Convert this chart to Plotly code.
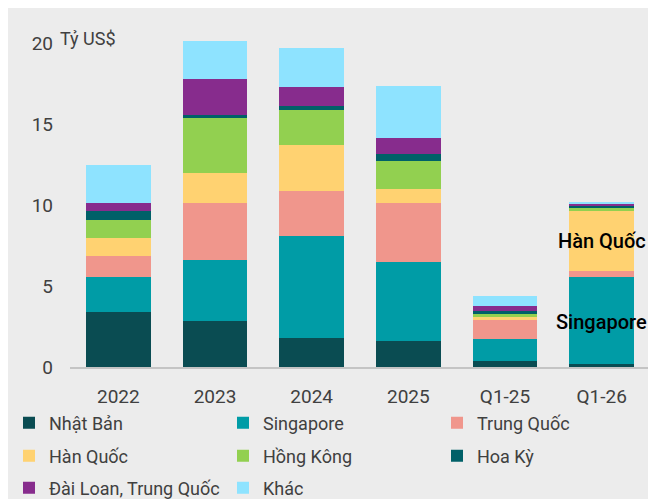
import plotly.graph_objects as go

categories = ["2022", "2023", "2024", "2025", "Q1-25", "Q1-26"]

nhat_ban = [3.38, 2.86, 1.77, 1.60, 0.37, 0.19]
singapore = [2.16, 3.76, 6.30, 4.86, 1.34, 5.35]
trung_quoc = [1.33, 3.52, 2.81, 3.68, 1.17, 0.40]
han_quoc = [1.09, 1.84, 2.84, 0.83, 0.19, 3.69]
hong_kong = [1.09, 3.43, 2.18, 1.75, 0.20, 0.23]
hoa_ky = [0.58, 0.15, 0.25, 0.43, 0.17, 0.10]
dai_loan = [0.51, 2.20, 1.12, 1.00, 0.35, 0.10]
khac = [2.33, 2.40, 2.46, 3.18, 0.57, 0.14]

series_names = ["Nhật Bản", "Singapore", "Trung Quốc", "Hàn Quốc", "Hồng Kông",
                "Hoa Kỳ", "Đài Loan, Trung Quốc", "Khác"]
series_values = [nhat_ban, singapore, trung_quoc, han_quoc, hong_kong, hoa_ky, dai_loan, khac]
series_colors = ["#0A4C52", "#009CA6", "#F0968C", "#FFD271", "#92D050",
                 "#006068", "#872C8D", "#8EE3FF"]

y_ticks = [0, 5, 10, 15, 20]
unit_label = "Tỷ US$"

FONT = "Roboto"
GRAY_TXT = "#404040"
BG = "#ECECEC"

# page body margin offsets the figure by 8px; geometry below in figure pixels
OFF = 8
W, H = 656, 499
L, R, T, B = 70 - OFF, 14, 19, 140
PW, PH = W - L - R, H - T - B

def px_x(px):  # screenshot px -> paper x
    return (px - OFF - L) / PW

def px_y(py):  # screenshot px -> paper y
    return (H - B - (py - OFF)) / PH

legend_cols = [9, 223, 437]
legend_rows = [423, 456, 488]

fig = go.Figure()
layout_legends = {}
for i, (name, vals, col) in enumerate(zip(series_names, series_values, series_colors)):
    lid = "legend" if i == 0 else f"legend{i + 1}"
    fig.add_trace(go.Bar(
        x=categories, y=vals, name=name, legend=lid,
        marker=dict(color=col, line=dict(width=0)),
    ))
    r, c = divmod(i, 3)
    layout_legends[lid] = dict(
        orientation="v", xref="paper", yref="paper",
        xanchor="left", yanchor="middle",
        x=px_x(legend_cols[c]), y=px_y(legend_rows[r]),
        bgcolor="rgba(0,0,0,0)", borderwidth=0,
        font=dict(family=FONT, size=18, color=GRAY_TXT),
        itemclick=False, itemdoubleclick=False,
    )

fig.update_layout(
    width=W, height=H,
    barmode="stack", bargap=0.33,
    paper_bgcolor=BG, plot_bgcolor=BG,
    margin=dict(l=L, r=R, t=T, b=B, autoexpand=False),
    font=dict(family=FONT, color=GRAY_TXT),
    showlegend=True,
    xaxis=dict(
        type="category", range=[-0.5, 5.5],
        showline=True, linecolor="#C4C4C4", linewidth=1.5,
        showgrid=False, ticks="", ticklabelstandoff=11,
        tickfont=dict(family=FONT, size=19, color=GRAY_TXT),
    ),
    yaxis=dict(
        range=[0, 21], tickvals=y_ticks,
        showgrid=False, zeroline=False, showline=False, ticks="",
        ticklabelstandoff=16,
        tickfont=dict(family=FONT, size=19, color=GRAY_TXT),
    ),
    annotations=[
        dict(text=unit_label, xref="paper", yref="paper", x=px_x(58), y=px_y(38),
             xanchor="left", yanchor="middle", showarrow=False,
             font=dict(family=FONT, size=18, color=GRAY_TXT)),
        dict(text="Hàn Quốc", x="Q1-26", y=7.78, xref="x", yref="y",
             xanchor="center", yanchor="middle", showarrow=False,
             font=dict(family=FONT, size=20, color="black", weight=500)),
        dict(text="Singapore", x="Q1-26", y=2.78, xref="x", yref="y",
             xanchor="center", yanchor="middle", showarrow=False,
             font=dict(family=FONT, size=20, color="black", weight=500)),
    ],
    **layout_legends,
)

fig.write_html("out.html")
